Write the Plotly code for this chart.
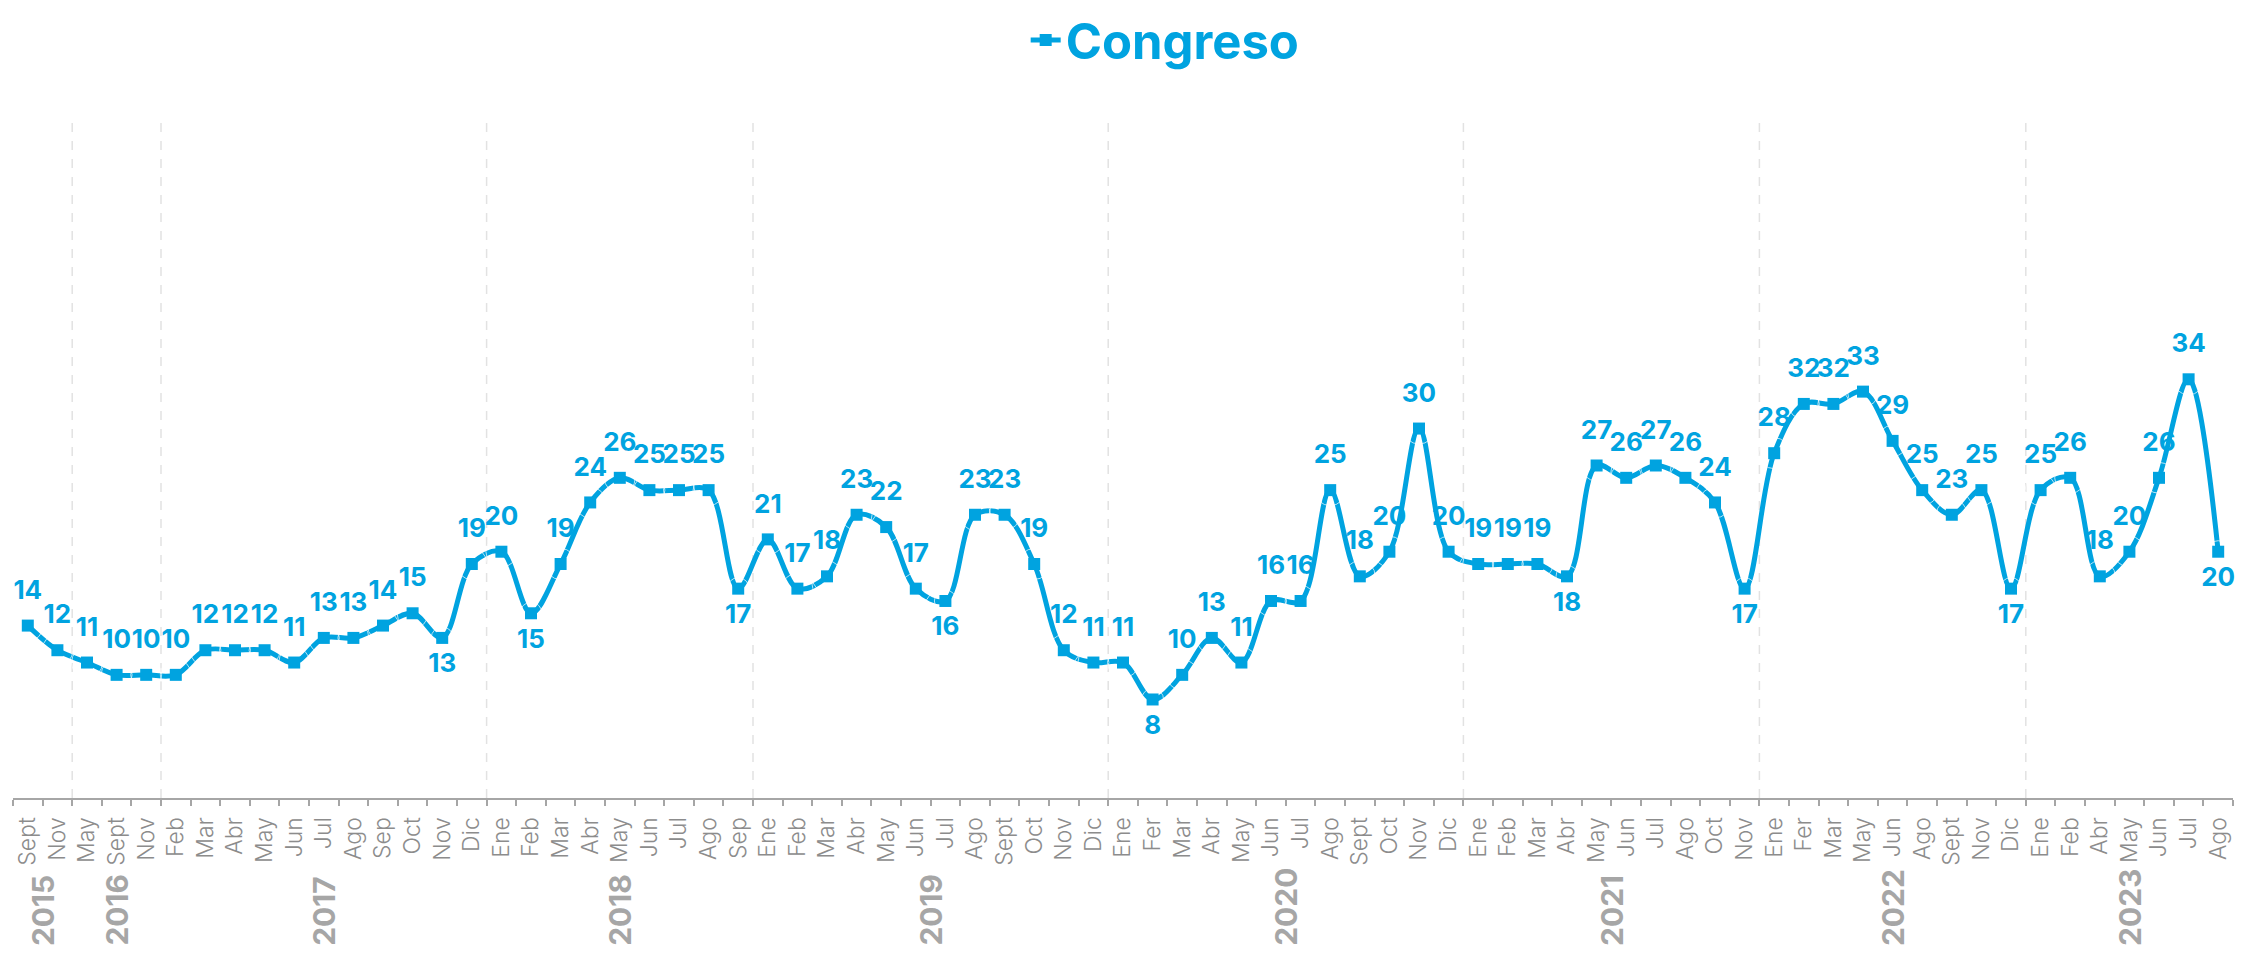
import plotly.graph_objects as go

# ---- data ----
months = ["Sept", "Nov",
          "May", "Sept", "Nov",
          "Feb", "Mar", "Abr", "May", "Jun", "Jul", "Ago", "Sep", "Oct", "Nov", "Dic",
          "Ene", "Feb", "Mar", "Abr", "May", "Jun", "Jul", "Ago", "Sep",
          "Ene", "Feb", "Mar", "Abr", "May", "Jun", "Jul", "Ago", "Sept", "Oct", "Nov", "Dic",
          "Ene", "Fer", "Mar", "Abr", "May", "Jun", "Jul", "Ago", "Sept", "Oct", "Nov", "Dic",
          "Ene", "Feb", "Mar", "Abr", "May", "Jun", "Jul", "Ago", "Oct", "Nov",
          "Ene", "Fer", "Mar", "May", "Jun", "Ago", "Sept", "Nov", "Dic",
          "Ene", "Feb", "Abr", "May", "Jun", "Jul", "Ago"]
year_names = ["2015", "2016", "2017", "2018", "2019", "2020", "2021", "2022", "2023"]
year_counts = [2, 3, 11, 9, 12, 12, 10, 9, 7]
values = [14, 12, 11, 10, 10, 10, 12, 12, 12, 11,
          13, 13, 14, 15, 13, 19, 20, 15, 19, 24,
          26, 25, 25, 25, 17, 21, 17, 18, 23, 22,
          17, 16, 23, 23, 19, 12, 11, 11, 8, 10,
          13, 11, 16, 16, 25, 18, 20, 30, 20, 19,
          19, 19, 18, 27, 26, 27, 26, 24, 17, 28,
          32, 32, 33, 29, 25, 23, 25, 17, 25, 26,
          18, 20, 26, 34, 20]
series_name = "Congreso"

# ---- style ----
BLUE = "#00A3E0"
FONT = "Inter"
labels_below = {14, 17, 24, 31, 38, 52, 58, 67, 74}

idx = list(range(len(values)))
positions = ["bottom center" if i in labels_below else "top center" for i in idx]
# invisible spacer marker sizes control label distance from the points
spacer_sizes = [22 if i in labels_below else 31 for i in idx]

fig = go.Figure()
fig.add_trace(go.Scatter(
    x=idx, y=values, name=series_name,
    mode="lines+markers",
    line=dict(color=BLUE, width=5, shape="spline", smoothing=1.0),
    marker=dict(symbol="square", size=12, color=BLUE),
    cliponaxis=False, showlegend=True,
))
fig.add_trace(go.Scatter(
    x=idx, y=values, mode="markers+text", showlegend=False, hoverinfo="skip",
    marker=dict(size=spacer_sizes, color="rgba(0,0,0,0)"),
    text=[str(v) for v in values], textposition=positions,
    textfont=dict(family=FONT, size=26, color=BLUE, weight=700),
    cliponaxis=False,
))

# year boundaries and labels
shapes = []
annotations = []
start = 0
for k, (yn, cnt) in enumerate(zip(year_names, year_counts)):
    end = start + cnt - 1
    annotations.append(dict(
        x=(start + end) / 2, xref="x", y=-0.2203, yref="paper",
        yanchor="bottom", xanchor="center", text=yn, textangle=-90,
        showarrow=False, font=dict(family=FONT, size=30, color="#A6A6A6", weight=700)))
    if k < len(year_names) - 1:
        b = end + 0.5
        shapes.append(dict(type="line", x0=b, x1=b, xref="x", y0=0, y1=1, yref="paper",
                           line=dict(color="#E2E2E2", width=1.5, dash="dash"), layer="below"))
    start = end + 1

n = len(values)
fig.update_layout(
    width=2251, height=945,
    margin=dict(l=5, r=26, t=109, b=155, autoexpand=False),
    paper_bgcolor="white", plot_bgcolor="white",
    shapes=shapes, annotations=annotations,
    legend=dict(orientation="h", x=0.519, xanchor="center", y=1.113, yanchor="middle",
                font=dict(family=FONT, size=49, color=BLUE, weight=700),
                bgcolor="rgba(0,0,0,0)"),
    xaxis=dict(
        range=[-0.5, n - 0.5], tickmode="array", tickvals=idx, ticktext=months,
        tickangle=-90, ticks="", ticklen=0, showgrid=False, zeroline=False,
        showline=True, linecolor="#A6A6A6", linewidth=2,
        tickfont=dict(family=FONT, size=23, color="#8C8C8C", weight=300),
        ticklabelstandoff=8,
        minor=dict(tickmode="array", tickvals=[i - 0.5 for i in range(n + 1)],
                   ticks="outside", ticklen=6, tickcolor="#A6A6A6", tickwidth=1.5,
                   showgrid=False),
    ),
    yaxis=dict(range=[0, 55.3], visible=False, showgrid=False, zeroline=False),
)

fig.write_html("out.html")
